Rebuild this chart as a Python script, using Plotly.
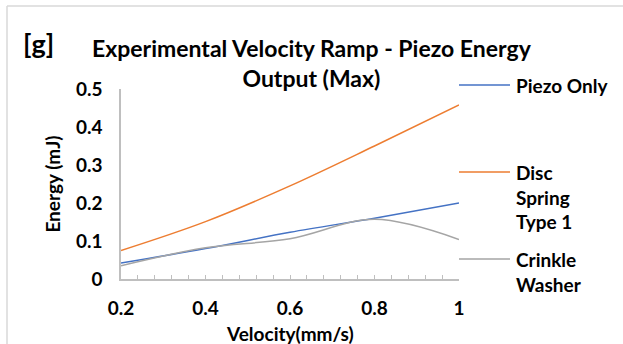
import plotly.graph_objects as go

velocity = [0.2, 0.4, 0.6, 0.8, 1.0]
piezo_only = [0.042, 0.080, 0.123, 0.160, 0.200]
disc_spring = [0.075, 0.151, 0.245, 0.350, 0.458]
crinkle_washer = [0.035, 0.082, 0.106, 0.157, 0.104]

series_names = ["Piezo Only", "Disc<br>Spring<br>Type 1", "Crinkle<br>Washer"]
series_values = [piezo_only, disc_spring, crinkle_washer]
colors = ["#4472C4", "#ED7D31", "#A5A5A5"]

W, H = 623, 344
L, R, T, B = 121, 459, 89, 279
FONT = "Lato"

def px(x):
    return (x - L) / (R - L)

def py(y):
    return (B - y) / (B - T)

fig = go.Figure()
for name, vals, c in zip(series_names, series_values, colors):
    fig.add_trace(go.Scatter(x=velocity, y=vals, mode="lines", name=name,
                             line=dict(color=c, width=1.5, shape="spline"),
                             showlegend=False))

shapes = []
annotations = []
# legend
leg_y = [85, 172, 259]
for name, c, ly in zip(series_names, colors, leg_y):
    shapes.append(dict(type="line", xref="paper", yref="paper",
                       x0=px(459), x1=px(510), y0=py(ly), y1=py(ly),
                       line=dict(color=c, width=1.5)))
    annotations.append(dict(text="<b>" + name + "</b>", xref="paper", yref="paper",
                            x=px(514), y=py(ly - 13), xanchor="left", yanchor="top",
                            align="left", showarrow=False,
                            font=dict(family=FONT, size=19, color="black")))
# chart border (top and left)
shapes.append(dict(type="line", xref="paper", yref="paper", x0=px(7), x1=px(623),
                   y0=py(6), y1=py(6), line=dict(color="#D9D9D9", width=1.5)))
shapes.append(dict(type="line", xref="paper", yref="paper", x0=px(7), x1=px(7),
                   y0=py(6), y1=py(344), line=dict(color="#D9D9D9", width=1.5)))

annotations.append(dict(text="<b>[g]</b>", xref="paper", yref="paper",
                        x=px(21), y=py(44), xanchor="left", yanchor="middle",
                        showarrow=False, font=dict(family=FONT, size=27, color="black")))
annotations.append(dict(text="<b>Experimental Velocity Ramp - Piezo Energy<br>Output (Max)</b>",
                        xref="paper", yref="paper", x=px(312), y=py(63),
                        xanchor="center", yanchor="middle", showarrow=False,
                        font=dict(family=FONT, size=23, color="black")))
annotations.append(dict(text="<b>Velocity(mm/s)</b>", xref="paper", yref="paper",
                        x=0.5, y=py(333), xanchor="center", yanchor="middle",
                        showarrow=False, font=dict(family=FONT, size=19, color="black")))

fig.update_layout(
    width=W, height=H,
    margin=dict(l=L, r=W - R, t=T, b=H - B),
    paper_bgcolor="white", plot_bgcolor="white",
    font=dict(family=FONT, size=19, color="black"),
    shapes=shapes, annotations=annotations,
    xaxis=dict(range=[0.2, 1.0], tickvals=velocity, ticktext=["0.2", "0.4", "0.6", "0.8", "1"],
               automargin=False,
               ticks="inside", ticklen=4, tickcolor="#BFBFBF", tickwidth=1,
               minor=dict(dtick=0.04, tick0=0.2, ticks="inside", ticklen=4, tickcolor="#BFBFBF", tickwidth=1),
               showline=True, linecolor="#BFBFBF", linewidth=2, showgrid=False, zeroline=False,
               tickfont=dict(family=FONT, size=19, color="black", weight="bold"),
               ticklabelstandoff=11),
    yaxis=dict(range=[0, 0.5], tickvals=[0, 0.1, 0.2, 0.3, 0.4, 0.5],
               ticktext=["0", "0.1", "0.2", "0.3", "0.4", "0.5"],
               automargin=False,
               ticks="", showline=True, linecolor="#BFBFBF", linewidth=1.5,
               showgrid=False, zeroline=False,
               tickfont=dict(family=FONT, size=19, color="black", weight="bold"),
               ticklabelstandoff=13,
               title=dict(text="<b>Energy (mJ)</b>", standoff=10,
                          font=dict(family=FONT, size=19, color="black"))),
)

fig.write_html("out.html")
